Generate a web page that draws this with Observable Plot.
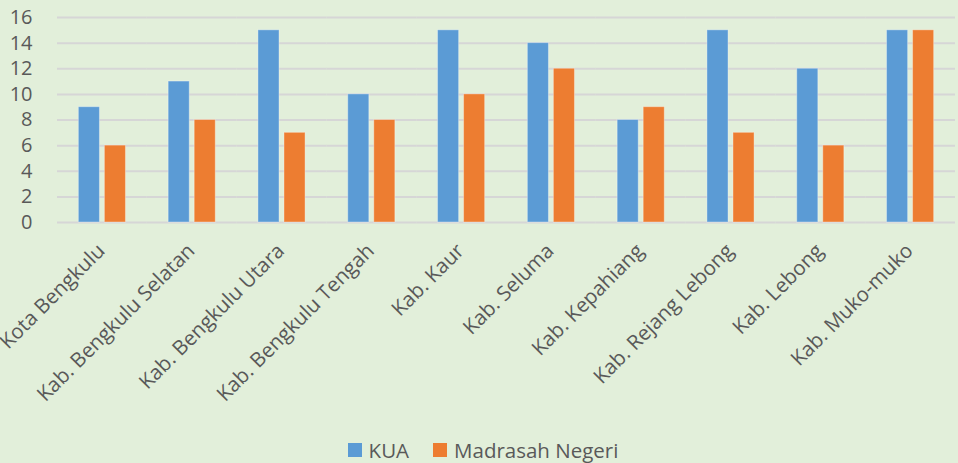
<!DOCTYPE html>
<html>
<head>
<meta charset="utf-8">
<script src="https://cdn.jsdelivr.net/npm/d3@7"></script>
<script src="https://cdn.jsdelivr.net/npm/@observablehq/plot@0.6"></script>
<style>
  html, body { margin: 0; padding: 0; background: #e2efda; }
  body { width: 958px; height: 463px; overflow: hidden; font-family: "Open Sans", sans-serif; }
  #legend { display: flex; justify-content: center; align-items: center; gap: 0; font-size: 20.5px; color: #595959; height: 33px; margin-left: 8px; margin-top: 3px; }
  .sw { display: inline-block; width: 14px; height: 14px; margin-right: 7px; }
  .item { display: flex; align-items: center; margin: 0 12px; }
</style>
</head>
<body>
<div id="chart"></div>
<div id="legend"></div>
<script>
const categories = ["Kota Bengkulu", "Kab. Bengkulu Selatan", "Kab. Bengkulu Utara", "Kab. Bengkulu Tengah", "Kab. Kaur", "Kab. Seluma", "Kab. Kepahiang", "Kab. Rejang Lebong", "Kab. Lebong", "Kab. Muko-muko"];
const series = ["KUA", "Madrasah Negeri"];
const kua = [9, 11, 15, 10, 15, 14, 8, 15, 12, 15];
const madrasah = [6, 8, 7, 8, 10, 12, 9, 7, 6, 15];
const yTicks = [0, 2, 4, 6, 8, 10, 12, 14, 16];
const colors = ["#5b9bd5", "#ed7d31"];

const data = [];
categories.forEach((c, i) => {
  data.push({category: c, series: series[0], value: kua[i]});
  data.push({category: c, series: series[1], value: madrasah[i]});
});

const chart = Plot.plot({
  width: 958,
  height: 430,
  marginTop: 17,
  marginBottom: 208,
  marginLeft: 57,
  marginRight: 3,
  style: {background: "transparent", fontFamily: "Open Sans, sans-serif", color: "#595959"},
  fx: {domain: categories, padding: 0, round: false, label: null},
  x: {domain: series, paddingInner: 0.19, paddingOuter: 0.82, round: false, axis: null},
  y: {domain: [0, 16], ticks: yTicks, label: null},
  color: {domain: series, range: colors},
  marks: [
    Plot.gridY(yTicks, {stroke: "#d6d6d6", strokeOpacity: 1, strokeWidth: 2, facetAnchor: null}),
    Plot.barY(data, {fx: "category", x: "series", y: "value", fill: "series", stroke: "#ffffff", strokeOpacity: 0.35, strokeWidth: 1}),
    Plot.axisY(yTicks, {tickSize: 0, tickPadding: 25, fontSize: 20, fill: "#595959", label: null}),
    Plot.axisFx({anchor: "bottom", tickSize: 0, tickRotate: -45, fontSize: 20.5, fill: "#595959", tickPadding: 25, dx: -1, label: null})
  ]
});
document.getElementById("chart").append(chart);

const legend = document.getElementById("legend");
series.forEach((s, i) => {
  const item = document.createElement("div");
  item.className = "item";
  const sw = document.createElement("span");
  sw.className = "sw";
  sw.style.background = colors[i];
  item.append(sw);
  item.append(document.createTextNode(s));
  legend.append(item);
});
</script>
</body>
</html>
